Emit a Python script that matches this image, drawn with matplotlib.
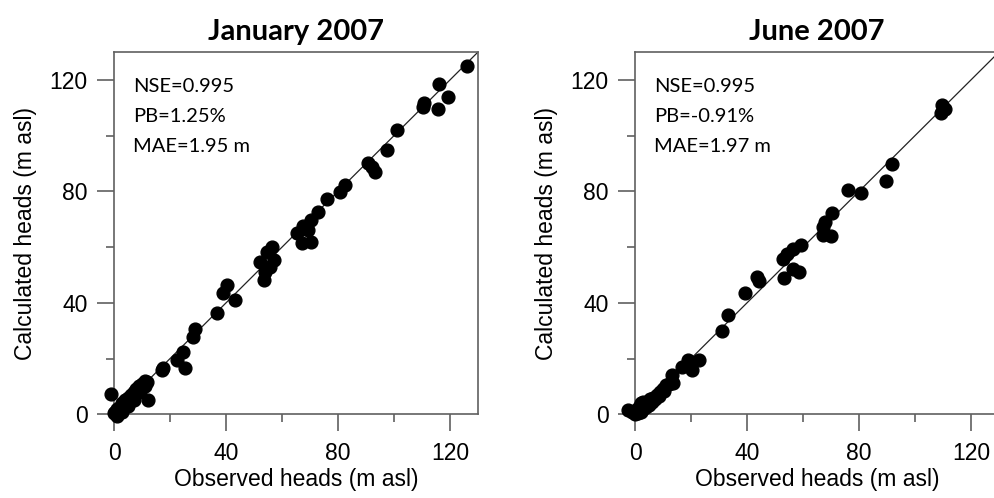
import matplotlib.pyplot as plt
from matplotlib.ticker import MultipleLocator

# January 2007: observed vs calculated heads (m asl)
jan_obs = [126.0, 116.2, 119.2, 115.6, 110.2, 110.7, 101.0, 97.4, 90.6, 92.0, 93.3,
           82.5, 80.7, 76.0, 73.0, 70.4, 67.6, 65.2, 67.0, 70.2, 69.4,
           56.5, 54.5, 52.1, 57.1, 55.7, 53.9, 53.7, 40.2, 38.8, 43.2, 36.9,
           28.9, 28.1, 24.5, 22.4, 25.4, 17.0, 17.6, 11.7, 12.0, -1.1,
           0.0, 0.5, 1.0, 1.0, 1.5, 2.0, 2.5, 3.0, 3.0, 4.0, 4.0, 5.0, 5.0, 6.0,
           6.0, 7.0, 7.0, 8.0, 8.0, 9.0, 9.0, 10.0, 10.0, 11.0, 11.0, 3.0, 5.0, 7.0, 1.0]
jan_calc = [125.0, 118.6, 113.9, 109.4, 110.3, 111.7, 101.9, 95.0, 90.2, 88.8, 87.0,
            82.2, 79.8, 77.2, 72.5, 69.7, 67.5, 64.9, 61.3, 61.9, 66.1,
            60.1, 58.3, 54.7, 55.3, 52.9, 51.1, 48.1, 46.4, 43.4, 41.2, 36.2,
            30.5, 27.8, 22.5, 19.5, 16.8, 15.9, 16.5, 11.7, 5.1, 7.2,
            0.5, 1.0, 0.0, 2.0, 1.5, 2.0, 3.0, 2.5, 4.0, 3.5, 5.0, 4.5, 6.0, 5.5,
            7.0, 6.5, 8.0, 7.5, 9.0, 8.0, 10.0, 9.5, 11.0, 10.0, 12.0, 1.0, 3.0, 5.0, -0.5]

# June 2007
jun_obs = [109.6, 110.7, 109.2, 91.7, 89.7, 80.8, 76.0, 70.2, 67.9, 67.3, 67.1, 70.1,
           59.4, 56.4, 54.2, 52.7, 56.4, 58.7, 53.2, 43.5, 44.4, 39.3, 33.3, 31.0,
           22.9, 19.0, 20.5, 16.7, 13.1, 13.7,
           -2.5, -1.0, 0.0, 0.5, 1.0, 1.5, 2.0, 2.5, 3.0, 3.5, 4.0, 4.5, 5.0, 5.5,
           6.0, 6.5, 7.0, 8.0, 9.0, 10.0, 11.0, 12.0, 3.0, 2.0, 8.5, 10.5]
jun_calc = [110.9, 109.7, 108.1, 89.7, 83.6, 79.5, 80.4, 72.3, 69.1, 67.3, 64.5, 63.9,
            60.9, 59.5, 57.7, 55.6, 52.3, 51.1, 49.0, 49.3, 47.8, 43.4, 35.6, 29.9,
            19.5, 19.5, 15.9, 17.1, 14.1, 11.4,
            1.5, 1.0, 0.0, 1.5, 0.5, 2.5, 1.0, 3.0, 2.0, 4.0, 2.5, 4.5, 3.5, 5.5,
            4.5, 6.0, 5.5, 7.0, 8.0, 9.0, 10.5, 11.0, 4.5, 4.0, 6.5, 8.5]

titles = ["January 2007", "June 2007"]
stats = [["NSE=0.995", "PB=1.25%", "MAE=1.95 m"],
         ["NSE=0.995", "PB=-0.91%", "MAE=1.97 m"]]

plt.rcParams['font.family'] = ['Liberation Sans', 'DejaVu Sans']

fig = plt.figure(figsize=(9.95, 4.98), dpi=100)
w, h = 0.3658, 0.7275
ax1 = fig.add_axes([0.1146, 0.168, w, h])
ax2 = fig.add_axes([0.6382, 0.168, w, h])

frame = '#606060'
for ax, xs, ys, title, lines in zip([ax1, ax2], [jan_obs, jun_obs], [jan_calc, jun_calc],
                                    titles, stats):
    ax.plot([0, 130], [0, 130], color='#222222', lw=0.9, zorder=2)
    ax.plot(xs, ys, 'o', color='black', ms=9.2, zorder=3, clip_on=False)
    ax.set_xlim(0, 130)
    ax.set_ylim(0, 130)
    ax.xaxis.set_major_locator(MultipleLocator(40))
    ax.yaxis.set_major_locator(MultipleLocator(40))
    ax.xaxis.set_minor_locator(MultipleLocator(20))
    ax.yaxis.set_minor_locator(MultipleLocator(20))
    ax.tick_params(which='major', direction='out', length=12, width=1.2, color=frame,
                   labelsize=16.5)
    ax.tick_params(axis='x', which='major', pad=8)
    ax.tick_params(axis='y', which='major', pad=7)
    ax.tick_params(which='minor', direction='out', length=6, width=1.2, color=frame)
    for s in ax.spines.values():
        s.set_color(frame)
        s.set_linewidth(1.2)
    ax.set_xlabel("Observed heads (m asl)", fontsize=16.5, labelpad=2)
    ax.set_ylabel("Calculated heads (m asl)", fontsize=16.5, labelpad=9)
    ax.set_title(title, fontsize=21, fontweight='bold', family=['Lato', 'DejaVu Sans'],
                 pad=9)
    for i, t in enumerate(lines):
        ax.text(0.052, 0.906 - i * 0.084, t, transform=ax.transAxes, fontsize=14.5,
                family=['Lato', 'DejaVu Sans'], va='center', ha='left')

fig.savefig("out.png", dpi=100)
